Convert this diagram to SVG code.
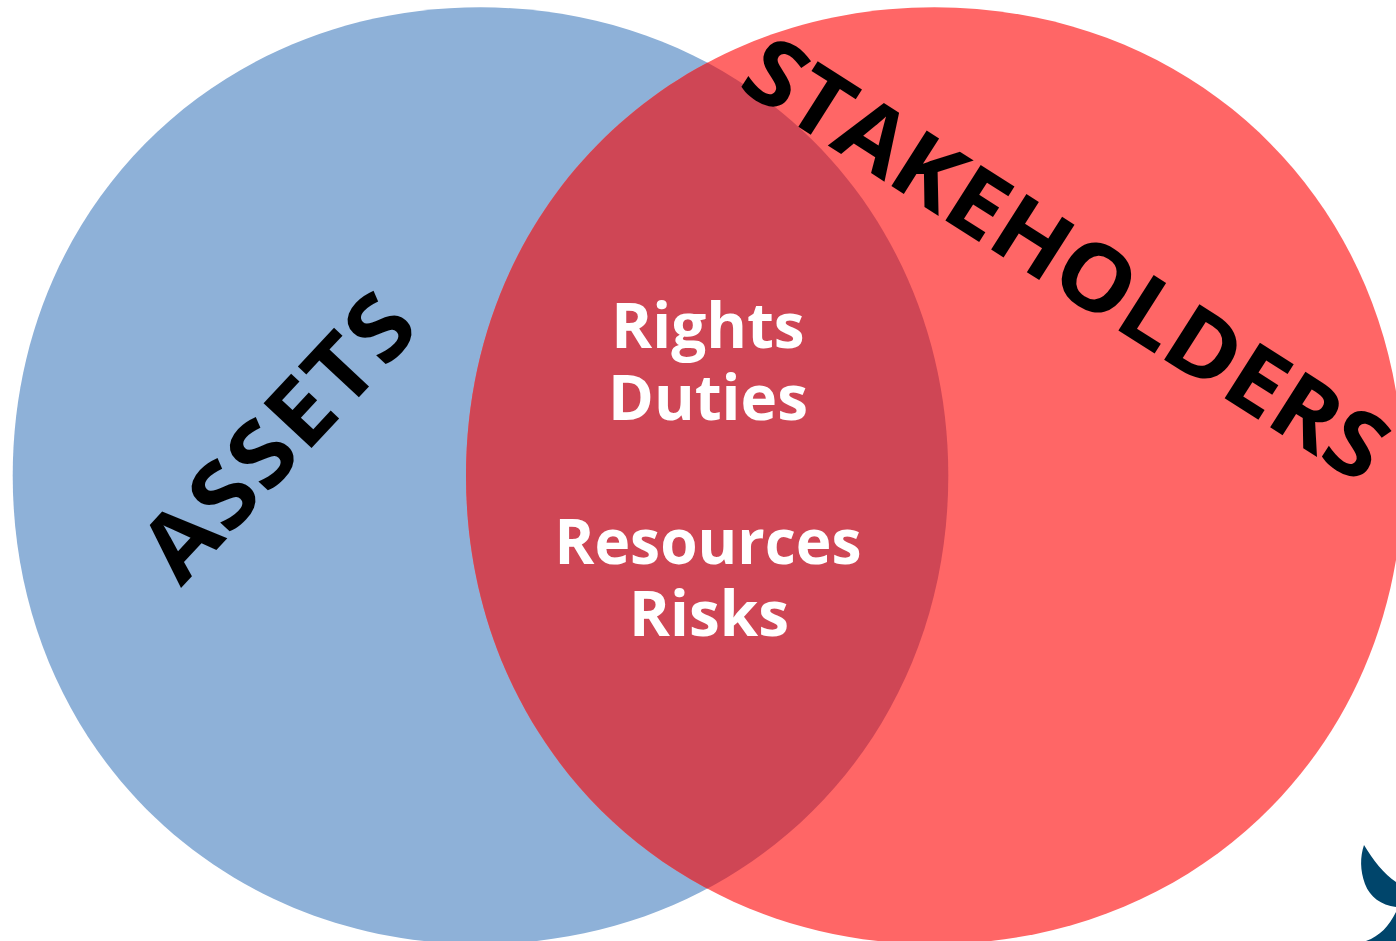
<svg xmlns="http://www.w3.org/2000/svg" width="1396" height="941" viewBox="0 0 1396 941">
<style>
.big{font-family:"Open Sans","Noto Sans","Liberation Sans",sans-serif;font-weight:700;font-size:92px;fill:#000}
.mid{font-family:"Open Sans","Noto Sans","Liberation Sans",sans-serif;font-weight:700;font-size:62px;fill:#fff;text-anchor:middle}
</style>
<defs>
<path id="left" d="M12.700 475.700C12.700 209.700 214.800 7.300 480.500 7.300C746.200 7.300 948.300 209.700 948.300 475.700C948.300 741.700 746.200 944.100 480.500 944.100C214.800 944.100 12.700 741.700 12.700 475.700Z"/>
<path id="right" d="M466 475.700C466 209.700 668.300 7.300 934.500 7.300C1200.700 7.300 1403 209.700 1403 475.700C1403 741.700 1200.700 944.100 934.500 944.100C668.300 944.100 466 741.700 466 475.700Z"/>
<clipPath id="lens"><use href="#left"/></clipPath>
</defs>
<rect width="1396" height="941" fill="#fff"/>
<g id="mark"><path d="M1364 845C1373 860 1384 874 1396 882V907C1381 905 1370 897 1365 884C1360 870 1360 857 1364 845ZM1396 912V941H1366C1380 936 1389 926 1396 912Z" fill="#00456b"/></g>
<g id="assets"><use href="#left" fill="#8eb1d8"/>
<text class="big" transform="translate(181,588) rotate(-47) scale(1.07,1)" textLength="330" lengthAdjust="spacing">ASSETS</text></g>
<g id="stakeholders"><use href="#right" fill="#ff6666"/></g>
<g id="overlap"><use href="#right" clip-path="url(#lens)" fill="#cf4655"/>
<text class="mid" x="708" y="348">Rights</text>
<text class="mid" x="708" y="420">Duties</text>
<text class="mid" x="708" y="564" textLength="307" lengthAdjust="spacingAndGlyphs">Resources</text>
<text class="mid" x="709" y="636">Risks</text></g>
<text class="big" transform="translate(736,87) rotate(32.500) scale(1.06,1)" textLength="700" lengthAdjust="spacing">STAKEHOLDERS</text>
</svg>
